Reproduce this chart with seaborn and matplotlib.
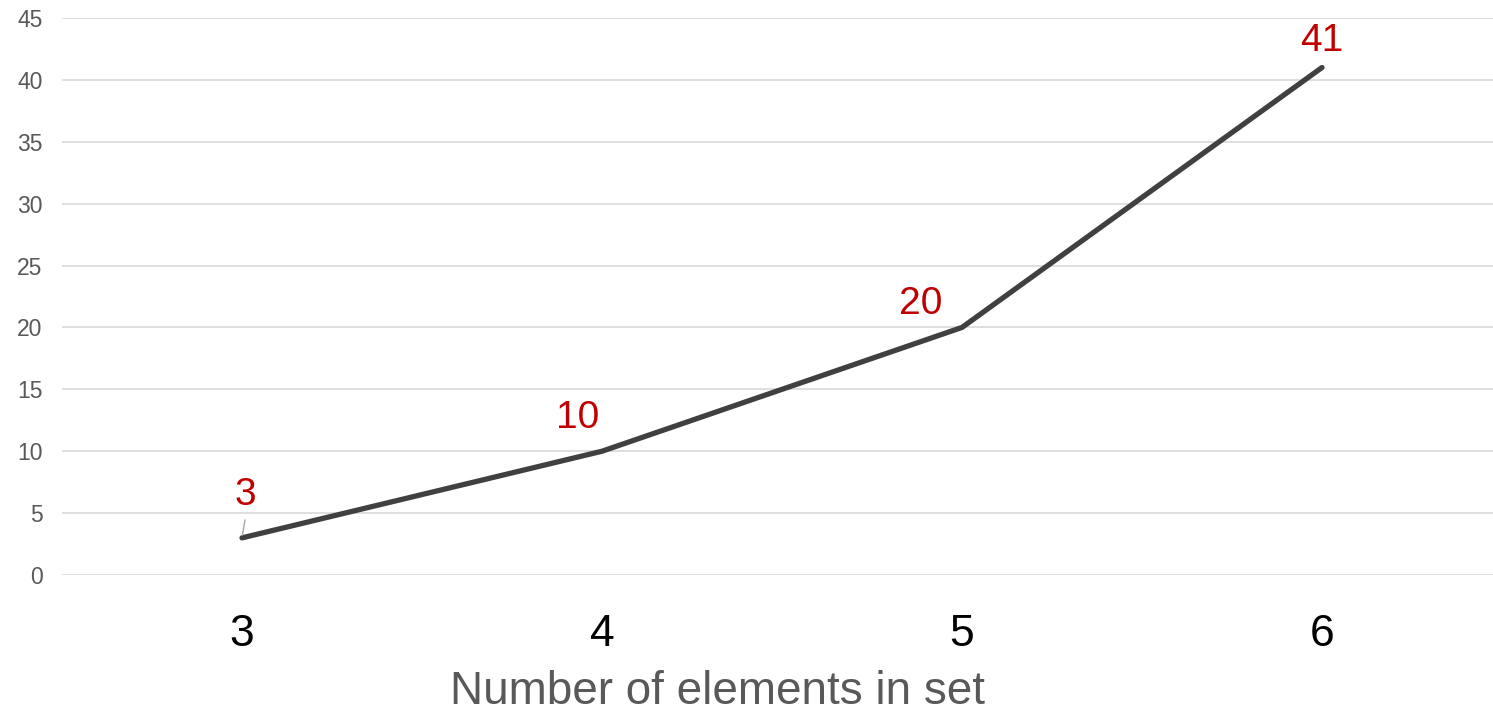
import matplotlib
matplotlib.use("Agg")
import matplotlib.pyplot as plt
import seaborn as sns
import pandas as pd

# data
set_sizes = ["3", "4", "5", "6"]
counts = [3, 10, 20, 41]
y_ticks = [0, 5, 10, 15, 20, 25, 30, 35, 40, 45]

sns.set_theme(style="white")
plt.rcParams["font.family"] = ["Liberation Sans", "DejaVu Sans"]

df = pd.DataFrame({"size": set_sizes, "count": counts})

fig = plt.figure(figsize=(14.93, 7.14), dpi=100)
ax = fig.add_axes([62 / 1493, 1 - 575 / 714, 1 - 62 / 1493, (575 - 18) / 714])

sns.lineplot(data=df, x="size", y="count", ax=ax, color="#404040",
             linewidth=3.8, sort=False, solid_capstyle="round")

ax.set_ylim(0, 45)
ax.set_xlim(-0.5, 3.475)
ax.set_yticks(y_ticks)
ax.yaxis.grid(True, color="#d9d9d9", linewidth=1.2)
ax.set_axisbelow(True)
for s in ax.spines.values():
    s.set_visible(False)
ax.tick_params(axis="y", length=0, pad=14, labelsize=16.5, labelcolor="#595959")
ax.tick_params(axis="x", length=0, pad=28, labelsize=32, labelcolor="black")
ax.set_ylabel("")
ax.set_xlabel("Number of elements in set", fontsize=33, color="#595959")
ax.xaxis.set_label_coords((718 - 62) / 1431, (575 - 692) / 557)
ax.xaxis.label.set_verticalalignment("center")

# data labels (offsets in pixels)
offsets = [(3, 43), (-24, 33), (-41, 23), (0, 27)]
for i, (v, off) in enumerate(zip(counts, offsets)):
    ax.annotate(str(v), xy=(i, v), xytext=off, textcoords="offset pixels",
                ha="center", va="center", fontsize=28, color="#c00000")
# leader line for the first label
ax.annotate("", xy=(0, counts[0]), xytext=(3, 18), textcoords="offset pixels",
            arrowprops=dict(arrowstyle="-", color="#a6a6a6", lw=1, shrinkA=0, shrinkB=2))

fig.savefig("out.png", dpi=100)
